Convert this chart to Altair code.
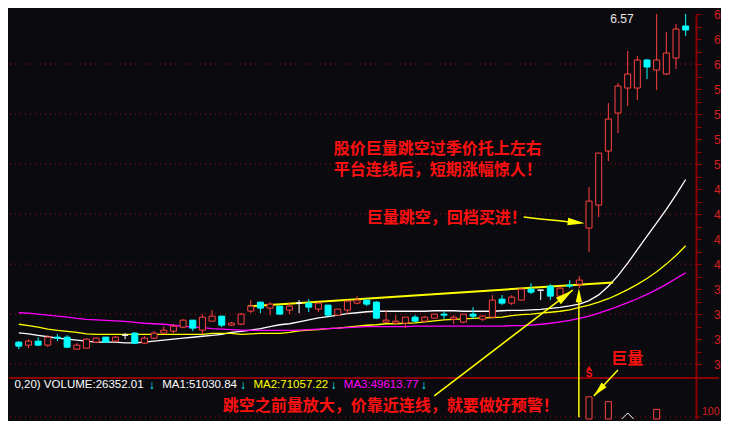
import altair as alt
import pandas as pd

# ---------------- data ----------------
opens = [3.22, 3.19, 3.23, 3.19, 3.27, 3.27, 3.15, 3.16, 3.22, 3.27,
         3.23, 3.29, 3.31, 3.21, 3.26, 3.31, 3.33, 3.37, 3.44, 3.34,
         3.43, 3.48, 3.39, 3.40, 3.53, 3.62, 3.56, 3.58, 3.54, 3.61,
         3.61, 3.55, 3.59, 3.49, 3.54, 3.61, 3.64, 3.62, 3.42, 3.41,
         3.41, 3.47, 3.43, 3.46, 3.50, 3.45, 3.42, 3.50, 3.45, 3.47,
         3.65, 3.61, 3.64, 3.75, 3.74, 3.78, 3.68, 3.79, 3.80, 4.36,
         4.59, 5.13, 5.51, 5.76, 5.76, 6.04, 5.94, 5.90, 6.06, 6.38]
closes = [3.18, 3.23, 3.19, 3.27, 3.26, 3.17, 3.19, 3.25, 3.26, 3.22,
          3.27, 3.29, 3.21, 3.26, 3.31, 3.34, 3.38, 3.44, 3.36, 3.47,
          3.48, 3.39, 3.41, 3.50, 3.58, 3.56, 3.60, 3.50, 3.58, 3.61,
          3.57, 3.61, 3.49, 3.55, 3.63, 3.64, 3.60, 3.46, 3.44, 3.43,
          3.47, 3.43, 3.47, 3.50, 3.49, 3.47, 3.50, 3.48, 3.48, 3.64,
          3.61, 3.67, 3.75, 3.72, 3.74, 3.68, 3.76, 3.78, 3.84, 4.63,
          5.11, 5.45, 5.78, 5.90, 6.04, 5.97, 6.04, 6.11, 6.35, 6.34]
highs = [3.23, 3.25, 3.27, 3.29, 3.30, 3.29, 3.21, 3.26, 3.27, 3.27,
         3.28, 3.31, 3.32, 3.28, 3.33, 3.38, 3.40, 3.45, 3.44, 3.50,
         3.54, 3.48, 3.42, 3.51, 3.64, 3.62, 3.62, 3.58, 3.62, 3.64,
         3.65, 3.61, 3.59, 3.55, 3.64, 3.68, 3.64, 3.63, 3.54, 3.49,
         3.47, 3.49, 3.48, 3.50, 3.53, 3.49, 3.50, 3.57, 3.49, 3.69,
         3.69, 3.69, 3.76, 3.81, 3.74, 3.80, 3.78, 3.84, 3.88, 4.77,
         5.11, 5.61, 5.81, 6.13, 6.08, 6.05, 6.57, 6.32, 6.40, 6.52]
lows = [3.15, 3.16, 3.18, 3.17, 3.23, 3.16, 3.15, 3.16, 3.21, 3.22,
        3.23, 3.25, 3.20, 3.20, 3.25, 3.30, 3.31, 3.36, 3.33, 3.30,
        3.43, 3.37, 3.38, 3.39, 3.51, 3.51, 3.49, 3.50, 3.50, 3.51,
        3.52, 3.52, 3.48, 3.48, 3.50, 3.60, 3.58, 3.45, 3.41, 3.40,
        3.36, 3.42, 3.42, 3.46, 3.45, 3.40, 3.41, 3.45, 3.43, 3.47,
        3.59, 3.59, 3.64, 3.70, 3.64, 3.64, 3.67, 3.76, 3.76, 4.12,
        4.47, 5.03, 5.31, 5.58, 5.64, 5.85, 5.74, 5.89, 5.95, 6.28]

ma_white = [3.313, 3.303, 3.288, 3.274, 3.260, 3.250, 3.240, 3.231, 3.221, 3.221,
            3.221, 3.212, 3.212, 3.221, 3.231, 3.240, 3.250, 3.260, 3.269, 3.279,
            3.288, 3.298, 3.317, 3.327, 3.341, 3.356, 3.375, 3.394, 3.404, 3.423,
            3.442, 3.462, 3.476, 3.490, 3.505, 3.514, 3.524, 3.529, 3.529, 3.529,
            3.529, 3.529, 3.529, 3.534, 3.534, 3.534, 3.529, 3.529, 3.529, 3.529,
            3.534, 3.538, 3.538, 3.543, 3.548, 3.558, 3.567, 3.582, 3.601, 3.635,
            3.692, 3.779, 3.885, 4.010, 4.144, 4.279, 4.413, 4.548, 4.692, 4.846]
ma_yellow = [3.399, 3.385, 3.370, 3.351, 3.337, 3.327, 3.317, 3.303, 3.298, 3.298,
             3.298, 3.298, 3.298, 3.298, 3.298, 3.298, 3.298, 3.298, 3.298, 3.298,
             3.308, 3.308, 3.308, 3.298, 3.303, 3.308, 3.308, 3.308, 3.317, 3.332,
             3.341, 3.346, 3.356, 3.361, 3.370, 3.380, 3.389, 3.394, 3.404, 3.404,
             3.409, 3.413, 3.423, 3.433, 3.442, 3.447, 3.452, 3.457, 3.462, 3.466,
             3.471, 3.486, 3.495, 3.500, 3.510, 3.519, 3.529, 3.543, 3.567, 3.591,
             3.620, 3.654, 3.697, 3.745, 3.798, 3.856, 3.923, 4.000, 4.087, 4.183]
ma_magenta = [3.514, 3.510, 3.500, 3.490, 3.481, 3.471, 3.457, 3.447, 3.442, 3.437,
              3.433, 3.428, 3.418, 3.409, 3.404, 3.399, 3.389, 3.380, 3.370, 3.365,
              3.356, 3.351, 3.346, 3.341, 3.337, 3.337, 3.337, 3.337, 3.337, 3.341,
              3.346, 3.351, 3.356, 3.361, 3.365, 3.370, 3.375, 3.375, 3.375, 3.375,
              3.375, 3.380, 3.380, 3.380, 3.380, 3.380, 3.380, 3.380, 3.380, 3.380,
              3.380, 3.385, 3.385, 3.391, 3.399, 3.409, 3.423, 3.437, 3.457, 3.481,
              3.510, 3.543, 3.577, 3.615, 3.654, 3.697, 3.745, 3.798, 3.856, 3.913]

volume_idx = [59, 61, 66]
volume_vals = [310000, 260000, 180000]
signal_idx = [63]
signal_vals = [80000]

price_ticks = [round(2.875 + 0.125 * k, 3) for k in range(30)]
grid_prices = [3.0, 3.5, 4.0, 4.5, 5.0, 5.5, 6.0]
volume_ticks = [100000]
volume_tick_labels = ["100"]

platform_x = [23.7, 61.5]
platform_y = [3.577, 3.817]

note_texts = ["股价巨量跳空过季价托上左右", "平台连线后，短期涨幅惊人！", "巨量跳空，回档买进！", "巨量"]
note_x = [32.6, 32.6, 36.0, 61.3]
note_y = [5.154, 4.938, 4.457, 3.055]

bottom_note = ["跳空之前量放大，价靠近连线，就要做好预警！"]
bottom_x = [21.1]
bottom_y = [210000]

high_label = ["6.57"]
high_x = [62.4]
high_y = [6.5]

legend_white = ["0,20) VOLUME:26352.01", "MA1:51030.84"]
legend_white_x = [-0.45, 14.83]
legend_yellow = ["MA2:71057.22"]
legend_yellow_x = [24.28]
legend_magenta = ["MA3:49613.77"]
legend_magenta_x = [33.63]
legend_arrow_x = [13.75, 23.2, 32.56, 41.9]
legend_y = 430000

arrow_group = ["a", "a", "a", "a", "b", "b", "c", "c", "d", "d"]
arrow_x = [52.24, 53.93, 55.92, 57.8, 42.99, 57.31, 57.95, 57.95, 61.99, 59.5]
arrow_y = [4.471, 4.452, 4.433, 4.412, 2.683, 3.740, 2.47, 3.70, 2.942, 2.683]
head_x = [58.55, 57.31, 57.95, 59.5]
head_y = [4.408, 3.740, 3.760, 2.683]
head_angle = [96, 52.6, 0, 223]
head_len = [17, 18, 14, 15]

# ---------------- styling / layout ----------------
BG = "#0b0b0f"
RED = "#ff4040"
CYAN = "#00ffff"
WHITE = "#ffffff"
YELLOW = "#ffff00"
MAGENTA = "#ff00ff"
AXISRED = "#8b0000"
LABELRED = "#d42020"
NOTERED = "#ff1010"

PTOP = 6.5
PBOT = 2.4519          # price at the bottom edge of the picture
PANE = 2.8606          # price at the border between price pane and volume pane
VBOT = 80000           # volume at the bottom edge of the picture
VTOP = 4290000         # volume at the top edge (same pixel scale as the volume pane)

xs = alt.Scale(domain=[-0.4975, 69.552], nice=False, zero=False)
ps = alt.Scale(domain=[PBOT, PTOP], nice=False, zero=False)
vs = alt.Scale(domain=[VBOT, VTOP], nice=False, zero=False)

p_axis = alt.Axis(orient="right", values=price_ticks,
                  labelExpr="round(datum.value*8) % 2 == 0 ? substring(format(datum.value, '.2f'), 0, 1) : ''",
                  tickSize=5, tickColor="#a00000", tickWidth=1,
                  domainColor=AXISRED, domainWidth=2, grid=False, title=None,
                  labelColor=LABELRED, labelFont="Liberation Sans", labelFontSize=12,
                  labelPadding=12.5, labelOverlap=False, labelFlush=True, labelFlushOffset=0,
                  labelAlign="left", labelBaseline="middle")


def PX(f):
    return alt.X(f, scale=xs, axis=None)


def PY(f):
    return alt.Y(f, scale=ps, axis=p_axis)


# ---------------- tables ----------------
kind = ["up" if c > o else ("down" if c < o else "flat") for o, c in zip(opens, closes)]
cdf = pd.DataFrame({"i": list(range(len(opens))), "open": opens, "close": closes,
                    "high": highs, "low": lows, "kind": kind})
kinds = ["up", "down", "flat"]

grid_df = pd.DataFrame({"p": grid_prices})
ma_w = pd.DataFrame({"i": list(range(70)), "v": ma_white})
ma_y = pd.DataFrame({"i": list(range(70)), "v": ma_yellow})
ma_m = pd.DataFrame({"i": list(range(70)), "v": ma_magenta})
plat_df = pd.DataFrame({"x": platform_x, "y": platform_y})
arr_df = pd.DataFrame({"g": arrow_group, "x": arrow_x, "y": arrow_y,
                       "o": list(range(len(arrow_x)))})
head_df = pd.DataFrame({"x": head_x, "y": head_y, "ang": head_angle,
                        "sz": [L * L for L in head_len]})
notes_df = pd.DataFrame({"t": note_texts, "x": note_x, "y": note_y})
high_df = pd.DataFrame({"t": high_label, "x": high_x, "y": high_y})
sig_df = pd.DataFrame({"t": ["S"], "x": [59.0], "y": [2.904]})
sig_tri = pd.DataFrame({"x": [59.0], "y": [2.965]})

# ---------------- price pane ----------------
grid = alt.Chart(grid_df).mark_rule(color="#a01010", strokeWidth=1, strokeDash=[1, 4]).encode(
    y=PY("p:Q"))

# border between the two panes, running on under the axis labels
separator = alt.Chart(pd.DataFrame({"p": [PANE]})).mark_rule(color=AXISRED, strokeWidth=2).encode(
    x=alt.value(0), x2=alt.value({"expr": "width + 23"}), y=PY("p:Q"))


def ma_line(df, color):
    return alt.Chart(df).mark_line(color=color, strokeWidth=1.3).encode(
        x=PX("i:Q"), y=PY("v:Q"), order="i:Q")


platform = alt.Chart(plat_df).mark_line(color=YELLOW, strokeWidth=2).encode(
    x=PX("x:Q"), y=PY("y:Q"))

# the top of the pane cuts the long upper shadows
wicks = alt.Chart(cdf).transform_calculate(
    hi_vis="min(datum.high, %s)" % PTOP
).mark_rule(strokeWidth=1).encode(
    x=PX("i:Q"), y=PY("low:Q"), y2="hi_vis:Q",
    color=alt.Color("kind:N", scale=alt.Scale(domain=kinds, range=[RED, CYAN, WHITE]), legend=None))

bodies = alt.Chart(cdf).mark_bar(size=6, strokeWidth=1).encode(
    x=PX("i:Q"), y=PY("open:Q"), y2="close:Q",
    fill=alt.Fill("kind:N", scale=alt.Scale(domain=kinds, range=[BG, CYAN, WHITE]), legend=None),
    stroke=alt.Stroke("kind:N", scale=alt.Scale(domain=kinds, range=[RED, CYAN, WHITE]), legend=None))

arrows = alt.Chart(arr_df).mark_line(color=YELLOW, strokeWidth=1.5).encode(
    x=PX("x:Q"), y=PY("y:Q"), detail="g:N", order="o:Q")

heads = alt.Chart(head_df).mark_point(shape="M0,0L0.45,2L-0.45,2Z", filled=True,
                                      color=YELLOW, opacity=1, strokeWidth=0).encode(
    x=PX("x:Q"), y=PY("y:Q"), angle=alt.Angle("ang:Q", scale=None), size=alt.Size("sz:Q", scale=None))

notes = alt.Chart(notes_df).mark_text(color=NOTERED, font="Noto Sans CJK SC", fontSize=16,
                                      fontWeight="bold", align="left", baseline="middle").encode(
    x=PX("x:Q"), y=PY("y:Q"), text="t:N")

high_txt = alt.Chart(high_df).mark_text(color="#e8e8e8", font="Liberation Sans", fontSize=12,
                                        align="center", baseline="top").encode(
    x=PX("x:Q"), y=PY("y:Q"), text="t:N")

sig_txt = alt.Chart(sig_df).mark_text(color=NOTERED, font="Liberation Sans", fontSize=10,
                                      fontWeight="bold", align="center", baseline="middle").encode(
    x=PX("x:Q"), y=PY("y:Q"), text="t:N")
sig_hat = alt.Chart(sig_tri).mark_point(shape="triangle-up", filled=True, color=NOTERED,
                                        opacity=1, size=22).encode(x=PX("x:Q"), y=PY("y:Q"))

price = alt.layer(grid, separator, ma_line(ma_w, WHITE), ma_line(ma_y, YELLOW),
                  ma_line(ma_m, MAGENTA), platform, wicks, bodies, arrows, heads, notes,
                  high_txt, sig_txt, sig_hat)


# ---------------- volume pane ----------------
def VY(f):
    return alt.Y(f, scale=vs, axis=None)


vt_df = pd.DataFrame({"v": volume_ticks, "t": volume_tick_labels})
vgrid = alt.Chart(vt_df).mark_rule(color="#a01010", strokeWidth=1, strokeDash=[1, 4]).encode(
    y=VY("v:Q"))
vtick = alt.Chart(vt_df).mark_rule(color="#a00000", strokeWidth=1).encode(
    x=alt.value("width"), x2=alt.value({"expr": "width + 5"}), y=VY("v:Q"))
vlabel = alt.Chart(vt_df).mark_text(color=LABELRED, font="Liberation Sans", fontSize=10.5,
                                    align="left", baseline="bottom", dx=6).encode(
    x=alt.value("width"), y=VY("v:Q"), text="t:N")

# bars run down to the bottom edge of the visible pane
vol_df = pd.DataFrame({"i": volume_idx, "v": volume_vals})
vbars = alt.Chart(vol_df).mark_bar(size=6, fill=BG, stroke=RED, strokeWidth=1).encode(
    x=PX("i:Q"), y=VY("v:Q"), y2=alt.datum(VBOT))

# only the upper half of the white diamond signal shows above the bottom edge
sig2 = alt.Chart(pd.DataFrame({"i": signal_idx, "v": signal_vals})).mark_point(
    shape="M-1,0L0,-1L1,0", size=144, filled=False, color=WHITE, strokeWidth=1, opacity=1).encode(
    x=PX("i:Q"), y=VY("v:Q"))


def legend_layer(texts, xs_, color, align="left", size=11.5):
    df = pd.DataFrame({"t": texts, "x": xs_, "y": [legend_y] * len(texts)})
    return alt.Chart(df).mark_text(color=color, font="Liberation Sans", fontSize=size,
                                   align=align, baseline="middle").encode(
        x=PX("x:Q"), y=VY("y:Q"), text="t:N")


leg_w = legend_layer(legend_white, legend_white_x, WHITE)
leg_y = legend_layer(legend_yellow, legend_yellow_x, YELLOW)
leg_m = legend_layer(legend_magenta, legend_magenta_x, MAGENTA)
leg_a = legend_layer(["↓"] * 4, legend_arrow_x, CYAN, align="center", size=12)

bottom = alt.Chart(pd.DataFrame({"t": bottom_note, "x": bottom_x, "y": bottom_y})).mark_text(
    color=NOTERED, font="Noto Sans CJK SC", fontSize=16, fontWeight="bold",
    align="left", baseline="middle").encode(x=PX("x:Q"), y=VY("y:Q"), text="t:N")

volume = alt.layer(vgrid, vtick, vlabel, vbars, sig2, leg_w, leg_y, leg_m, leg_a, bottom)

chart = alt.layer(price, volume).resolve_scale(y="independent").properties(
    width=713, height=413,
    autosize=alt.AutoSizeParams(type="fit", contains="padding"),
    background=BG,
    padding=0,
).configure_view(stroke="transparent")

chart.save("out.html", embed_options={"renderer": "svg", "actions": False})
